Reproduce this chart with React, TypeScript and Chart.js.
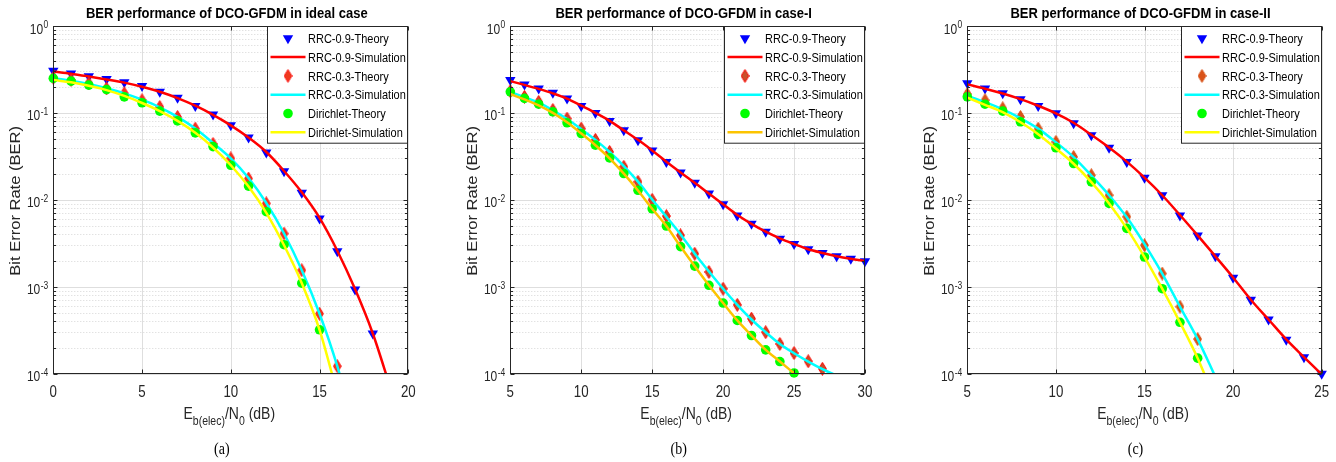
import React, { useEffect, useRef } from 'react';
import { Chart, registerables } from 'chart.js';

Chart.register(...registerables);

const SANS = '"Liberation Sans", Arial, Helvetica, sans-serif';
const SERIF = '"Liberation Serif", "Times New Roman", serif';
const SY = 1.18; // vertical text stretch of the original figure
const AXIS = '#262626';

// ---------- text / labels ----------
const legendLabels = [
  'RRC-0.9-Theory',
  'RRC-0.9-Simulation',
  'RRC-0.3-Theory',
  'RRC-0.3-Simulation',
  'Dirichlet-Theory',
  'Dirichlet-Simulation',
];
const titles = [
  'BER performance of DCO-GFDM in ideal case',
  'BER performance of DCO-GFDM in case-I',
  'BER performance of DCO-GFDM in case-II',
];
const captions = ['(a)', '(b)', '(c)'];
const yTickValues = [1, 0.1, 0.01, 0.001, 0.0001];
const yTickExponents = ['0', '-1', '-2', '-3', '-4'];
const yMinorMultipliers = [2, 3, 4, 5, 6, 7, 8, 9];
const xTicksA = [0, 5, 10, 15, 20];
const xTicksB = [5, 10, 15, 20, 25, 30];
const xTicksC = [5, 10, 15, 20, 25];

// ---------- panel (a): ideal case ----------
const xA09T = [0, 1, 2, 3, 4, 5, 6, 7, 8, 9, 10, 11, 12, 13, 14, 15, 16, 17, 18];
const a09Theory = [0.305, 0.285, 0.265, 0.245, 0.226, 0.204, 0.175, 0.149, 0.12, 0.096, 0.072, 0.052, 0.035, 0.0214, 0.0121, 0.0061, 0.00257, 0.00093, 0.00029];
const xA09S = [0, 1, 2, 3, 4, 5, 6, 7, 8, 9, 10, 11, 12, 13, 14, 15, 16, 17, 18, 19];
const a09Sim = [0.3, 0.283, 0.263, 0.243, 0.223, 0.2, 0.175, 0.148, 0.121, 0.095, 0.072, 0.052, 0.0355, 0.0215, 0.0122, 0.0062, 0.0026, 0.00094, 0.00029, 0.000068];
const xA03T = [0, 1, 2, 3, 4, 5, 6, 7, 8, 9, 10, 11, 12, 13, 14, 15, 16];
const a03Theory = [0.254, 0.239, 0.219, 0.191, 0.168, 0.14, 0.117, 0.09, 0.066, 0.044, 0.03, 0.0176, 0.0091, 0.0041, 0.00155, 0.00049, 0.000122];
const xA03S = [0, 1, 2, 3, 4, 5, 6, 7, 8, 9, 10, 11, 12, 13, 14, 15, 16, 17];
const a03Sim = [0.25, 0.235, 0.215, 0.192, 0.168, 0.142, 0.116, 0.09, 0.066, 0.045, 0.03, 0.0178, 0.0092, 0.0041, 0.00155, 0.00049, 0.000122, 0.000022];
const xADT = [0, 1, 2, 3, 4, 5, 6, 7, 8, 9, 10, 11, 12, 13, 14, 15];
const aDirTheory = [0.25, 0.232, 0.209, 0.186, 0.153, 0.131, 0.105, 0.081, 0.059, 0.041, 0.025, 0.0144, 0.0073, 0.00305, 0.0011, 0.00032];
const xADS = [0, 1, 2, 3, 4, 5, 6, 7, 8, 9, 10, 11, 12, 13, 14, 15, 16];
const aDirSim = [0.24, 0.225, 0.205, 0.183, 0.157, 0.13, 0.105, 0.081, 0.059, 0.04, 0.025, 0.0142, 0.0071, 0.003, 0.0011, 0.00032, 0.000059];

// ---------- panel (b): case-I ----------
const xB09 = [5, 6, 7, 8, 9, 10, 11, 12, 13, 14, 15, 16, 17, 18, 19, 20, 21, 22, 23, 24, 25, 26, 27, 28, 29, 30];
const b09Theory = [0.239, 0.213, 0.191, 0.171, 0.147, 0.12, 0.1, 0.081, 0.063, 0.0486, 0.037, 0.0273, 0.0206, 0.0157, 0.0118, 0.0089, 0.0066, 0.0053, 0.0043, 0.00358, 0.0031, 0.0027, 0.00245, 0.00224, 0.0021, 0.00196];
const b09Sim = [0.232, 0.21, 0.189, 0.168, 0.146, 0.121, 0.1, 0.081, 0.063, 0.049, 0.037, 0.0275, 0.0207, 0.0157, 0.0118, 0.0089, 0.0067, 0.0053, 0.0043, 0.0036, 0.0031, 0.0027, 0.00245, 0.00225, 0.0021, 0.00198];
const xB03T = [5, 6, 7, 8, 9, 10, 11, 12, 13, 14, 15, 16, 17, 18, 19, 20, 21, 22, 23, 24, 25, 26, 27];
const b03Theory = [0.178, 0.153, 0.134, 0.108, 0.086, 0.066, 0.049, 0.0356, 0.024, 0.0161, 0.01, 0.0065, 0.0039, 0.0024, 0.00148, 0.00095, 0.00062, 0.00043, 0.0003, 0.00022, 0.000173, 0.000139, 0.000114];
const xB03S = [5, 6, 7, 8, 9, 10, 11, 12, 13, 14, 15, 16, 17, 18, 19, 20, 21, 22, 23, 24, 25, 26, 27, 28];
const b03Sim = [0.175, 0.152, 0.131, 0.107, 0.085, 0.065, 0.049, 0.0355, 0.0245, 0.0162, 0.0101, 0.0064, 0.004, 0.0024, 0.0015, 0.00095, 0.00062, 0.00042, 0.0003, 0.00022, 0.000172, 0.000138, 0.000113, 0.000095];
const xBD = [5, 6, 7, 8, 9, 10, 11, 12, 13, 14, 15, 16, 17, 18, 19, 20, 21, 22, 23, 24, 25];
const bDirTheory = [0.175, 0.147, 0.126, 0.103, 0.077, 0.058, 0.0426, 0.0304, 0.0201, 0.0129, 0.0079, 0.005, 0.0029, 0.00173, 0.00104, 0.00065, 0.00041, 0.000275, 0.000188, 0.000138, 0.000102];
const bDirSim = [0.165, 0.143, 0.122, 0.1, 0.078, 0.058, 0.0425, 0.03, 0.02, 0.0128, 0.0079, 0.005, 0.0029, 0.00172, 0.00104, 0.00065, 0.00041, 0.000275, 0.000188, 0.000138, 0.000101];

// ---------- panel (c): case-II ----------
const xC09 = [5, 6, 7, 8, 9, 10, 11, 12, 13, 14, 15, 16, 17, 18, 19, 20, 21, 22, 23, 24, 25];
const c09Theory = [0.219, 0.191, 0.168, 0.144, 0.12, 0.099, 0.076, 0.0555, 0.0397, 0.0273, 0.0179, 0.0113, 0.0066, 0.0039, 0.00224, 0.00127, 0.00071, 0.00042, 0.000246, 0.000155, 0.0001];
const c09Sim = [0.213, 0.19, 0.167, 0.144, 0.121, 0.099, 0.077, 0.056, 0.04, 0.0275, 0.018, 0.0113, 0.0067, 0.0039, 0.00224, 0.00128, 0.00071, 0.00042, 0.000248, 0.000155, 0.000098];
const xCT = [5, 6, 7, 8, 9, 10, 11, 12, 13, 14, 15, 16, 17, 18];
const xCS = [5, 6, 7, 8, 9, 10, 11, 12, 13, 14, 15, 16, 17, 18, 19];
const c03Theory = [0.165, 0.14, 0.113, 0.09, 0.066, 0.0465, 0.0312, 0.0192, 0.0113, 0.0064, 0.003, 0.00142, 0.00059, 0.00025];
const c03Sim = [0.157, 0.133, 0.11, 0.087, 0.066, 0.046, 0.031, 0.019, 0.0113, 0.0063, 0.0031, 0.00142, 0.00059, 0.00025, 0.000092];
const cDirTheory = [0.153, 0.126, 0.105, 0.079, 0.0565, 0.0397, 0.0262, 0.0161, 0.0091, 0.0047, 0.0022, 0.00095, 0.00039, 0.000151];
const cDirSim = [0.15, 0.124, 0.102, 0.078, 0.057, 0.039, 0.026, 0.016, 0.0091, 0.0047, 0.0022, 0.00095, 0.00039, 0.000151, 0.000049];

const pts = (xs: number[], ys: number[]) => ys.map((v, i) => ({ x: xs[i], y: v }));

// ---------- drawing helpers ----------
function stretchedText(ctx: CanvasRenderingContext2D, s: string, x: number, y: number, font: string, align: CanvasTextAlign, color = AXIS) {
  ctx.save();
  ctx.font = font;
  ctx.fillStyle = color;
  ctx.textAlign = align;
  ctx.textBaseline = 'alphabetic';
  ctx.translate(x, y);
  ctx.scale(1, SY);
  ctx.fillText(s, 0, 0);
  ctx.restore();
}

function makeDiamond(fill: string, stroke: string): HTMLCanvasElement {
  const c = document.createElement('canvas');
  c.width = 9;
  c.height = 14;
  const g = c.getContext('2d')!;
  g.beginPath();
  g.moveTo(4.5, 0.6);
  g.lineTo(8.4, 7);
  g.lineTo(4.5, 13.4);
  g.lineTo(0.6, 7);
  g.closePath();
  g.fillStyle = fill;
  g.fill();
  g.strokeStyle = stroke;
  g.lineWidth = 1;
  g.stroke();
  return c;
}

const TRI_R = 6;
const CIRCLE_R = 4.8;

function drawMarker(ctx: CanvasRenderingContext2D, kind: string, x: number, y: number, fill: string, img?: HTMLCanvasElement) {
  ctx.save();
  if (kind === 'tri') {
    const r = TRI_R;
    ctx.beginPath();
    ctx.moveTo(x, y + r);
    ctx.lineTo(x - r * 0.866, y - r / 2);
    ctx.lineTo(x + r * 0.866, y - r / 2);
    ctx.closePath();
    ctx.fillStyle = fill;
    ctx.fill();
  } else if (kind === 'circle') {
    ctx.beginPath();
    ctx.arc(x, y, CIRCLE_R, 0, Math.PI * 2);
    ctx.fillStyle = fill;
    ctx.fill();
  } else if (kind === 'diamond' && img) {
    ctx.drawImage(img, x - img.width / 2, y - img.height / 2);
  }
  ctx.restore();
}

type PanelCfg = {
  left: number;
  width: number;
  areaLeft: number;
  areaRight: number;
  xMin: number;
  xMax: number;
  xTicks: number[];
  title: string;
  caption: string;
  diamondFill: string;
  diamondStroke: string;
  yellow: string;
  series: { x: number[]; y: number[] }[];
};

const AREA_TOP = 26;
const AREA_BOTTOM = 373.7;

const panels: PanelCfg[] = [
  {
    left: 0, width: 445, areaLeft: 53.3, areaRight: 408.3, xMin: 0, xMax: 20, xTicks: xTicksA,
    title: titles[0], caption: captions[0], diamondFill: '#ee3a1e', diamondStroke: '#ff1a1a', yellow: '#ffff00',
    series: [
      { x: xA09T, y: a09Theory }, { x: xA09S, y: a09Sim },
      { x: xA03T, y: a03Theory }, { x: xA03S, y: a03Sim },
      { x: xADT, y: aDirTheory }, { x: xADS, y: aDirSim },
    ],
  },
  {
    left: 445, width: 445, areaLeft: 65.3, areaRight: 420, xMin: 5, xMax: 30, xTicks: xTicksB,
    title: titles[1], caption: captions[1], diamondFill: '#c9502a', diamondStroke: '#ff0000', yellow: '#fcc400',
    series: [
      { x: xB09, y: b09Theory }, { x: xB09, y: b09Sim },
      { x: xB03T, y: b03Theory }, { x: xB03S, y: b03Sim },
      { x: xBD, y: bDirTheory }, { x: xBD, y: bDirSim },
    ],
  },
  {
    left: 890, width: 446, areaLeft: 77.3, areaRight: 431.7, xMin: 5, xMax: 25, xTicks: xTicksC,
    title: titles[2], caption: captions[2], diamondFill: '#d95319', diamondStroke: '#d95319', yellow: '#ffff00',
    series: [
      { x: xC09, y: c09Theory }, { x: xC09, y: c09Sim },
      { x: xCT, y: c03Theory }, { x: xCS, y: c03Sim },
      { x: xCT, y: cDirTheory }, { x: xCS, y: cDirSim },
    ],
  },
];

function makePlugin(p: PanelCfg, diamond: HTMLCanvasElement, kinds: string[], colors: string[]) {
  return {
    id: 'matlabAxes',
    beforeDatasetsDraw(chart: any) {
      const { ctx, chartArea: a } = chart;
      const xs = chart.scales.x;
      const ys = chart.scales.y;
      ctx.save();
      ctx.fillStyle = '#ffffff';
      ctx.fillRect(a.left, a.top, a.right - a.left, a.bottom - a.top);
      ctx.lineWidth = 1;
      // minor (dotted) horizontal grid
      ctx.strokeStyle = '#d6d6d6';
      ctx.setLineDash([1, 2]);
      yTickValues.forEach((d) => {
        if (d >= 1) return;
        yMinorMultipliers.forEach((m) => {
          const py = Math.round(ys.getPixelForValue(d * m)) + 0.5;
          ctx.beginPath();
          ctx.moveTo(a.left, py);
          ctx.lineTo(a.right, py);
          ctx.stroke();
        });
      });
      ctx.setLineDash([]);
      // major grid
      ctx.strokeStyle = '#dedede';
      yTickValues.forEach((d) => {
        const py = Math.round(ys.getPixelForValue(d)) + 0.5;
        ctx.beginPath();
        ctx.moveTo(a.left, py);
        ctx.lineTo(a.right, py);
        ctx.stroke();
      });
      p.xTicks.forEach((t) => {
        const px = Math.round(xs.getPixelForValue(t)) + 0.5;
        ctx.beginPath();
        ctx.moveTo(px, a.top);
        ctx.lineTo(px, a.bottom);
        ctx.stroke();
      });
      ctx.restore();
    },
    afterDatasetsDraw(chart: any) {
      const { ctx, chartArea: a } = chart;
      const xs = chart.scales.x;
      const ys = chart.scales.y;
      ctx.save();
      // box
      ctx.strokeStyle = AXIS;
      ctx.lineWidth = 1;
      const L = Math.round(a.left) + 0.5;
      const R = Math.round(a.right) - 0.5;
      const T = Math.round(a.top) + 0.5;
      const B = Math.round(a.bottom) - 0.5;
      ctx.strokeRect(L, T, R - L, B - T);
      // ticks (inward)
      ctx.beginPath();
      yTickValues.forEach((d) => {
        const py = Math.round(ys.getPixelForValue(d)) + 0.5;
        ctx.moveTo(L, py); ctx.lineTo(L + 4, py);
        ctx.moveTo(R, py); ctx.lineTo(R - 4, py);
        if (d < 1) {
          yMinorMultipliers.forEach((m) => {
            const pm = Math.round(ys.getPixelForValue(d * m)) + 0.5;
            ctx.moveTo(L, pm); ctx.lineTo(L + 2.5, pm);
            ctx.moveTo(R, pm); ctx.lineTo(R - 2.5, pm);
          });
        }
      });
      p.xTicks.forEach((t) => {
        const px = Math.round(xs.getPixelForValue(t)) + 0.5;
        ctx.moveTo(px, B); ctx.lineTo(px, B - 4);
        ctx.moveTo(px, T); ctx.lineTo(px, T + 4);
      });
      ctx.stroke();

      // x tick labels
      p.xTicks.forEach((t) => {
        stretchedText(ctx, String(t), xs.getPixelForValue(t), a.bottom + 23.6, `13.3px ${SANS}`, 'center');
      });
      // y tick labels 10^k
      const baseFont = `12px ${SANS}`;
      const supFont = `8.5px ${SANS}`;
      yTickValues.forEach((d, i) => {
        const py = ys.getPixelForValue(d);
        const right = a.left - 5;
        ctx.font = supFont;
        const wSup = ctx.measureText(yTickExponents[i]).width;
        stretchedText(ctx, yTickExponents[i], right, py + 2, supFont, 'right');
        stretchedText(ctx, '10', right - wSup - 0.5, py + 7.5, baseFont, 'right');
      });

      // y axis title (rotated, stretched along its length)
      ctx.save();
      ctx.font = `14px ${SANS}`;
      ctx.fillStyle = AXIS;
      ctx.textAlign = 'center';
      ctx.textBaseline = 'alphabetic';
      ctx.translate(a.left - 33.5, (a.top + a.bottom) / 2 + 1);
      ctx.scale(1, SY);
      ctx.rotate(-Math.PI / 2);
      ctx.fillText('Bit Error Rate (BER)', 0, 0);
      ctx.restore();

      // x axis title with subscripts
      const mainF = `14px ${SANS}`;
      const subF = `10.5px ${SANS}`;
      const parts: [string, string, number][] = [
        ['E', mainF, 0],
        ['b(elec)', subF, 6],
        ['/N', mainF, 0],
        ['0', subF, 6],
        [' (dB)', mainF, 0],
      ];
      let total = 0;
      parts.forEach(([s, f]) => { ctx.font = f; total += ctx.measureText(s).width; });
      let cx = (a.left + a.right) / 2 - 1.5 - total / 2;
      const baseY = a.bottom + 45.6;
      parts.forEach(([s, f, off]) => {
        ctx.font = f;
        const w = ctx.measureText(s).width;
        stretchedText(ctx, s, cx, baseY + off, f, 'left');
        cx += w;
      });

      // title
      stretchedText(ctx, p.title, (a.left + a.right) / 2 - 4, 18.3, `bold 13px ${SANS}`, 'center', '#000000');

      // caption
      stretchedText(ctx, p.caption, (a.left + a.right) / 2 - 9, a.bottom + 80, `14px ${SERIF}`, 'center', '#000000');

      // legend
      const lw = 141;
      const lh = 116.7;
      const lx = Math.round(a.right - lw);
      const ly = Math.round(a.top);
      ctx.fillStyle = '#ffffff';
      ctx.fillRect(lx, ly, lw, lh);
      ctx.strokeStyle = AXIS;
      ctx.lineWidth = 1;
      ctx.strokeRect(lx + 0.5, ly + 0.5, lw - 1, lh);
      chart.data.datasets.forEach((ds: any, i: number) => {
        const cy = ly + 12.3 + i * 18.8;
        if (kinds[i] === 'line') {
          ctx.beginPath();
          ctx.strokeStyle = colors[i];
          ctx.lineWidth = 2.5;
          ctx.moveTo(lx + 3.5, cy);
          ctx.lineTo(lx + 38.5, cy);
          ctx.stroke();
        } else {
          drawMarker(ctx, kinds[i], lx + 21, cy, colors[i], diamond);
        }
        stretchedText(ctx, ds.label, lx + 41, cy + 4.6, `11px ${SANS}`, 'left', '#000000');
      });
      ctx.restore();
    },
  };
}

function Panel({ p }: { p: PanelCfg }) {
  const ref = useRef<HTMLCanvasElement>(null);
  useEffect(() => {
    const diamond = makeDiamond(p.diamondFill, p.diamondStroke);
    const kinds = ['tri', 'line', 'diamond', 'line', 'circle', 'line'];
    const colors = ['#0000ff', '#ff0000', p.diamondFill, '#00ffff', '#00ff00', p.yellow];
    const theory = (i: number, style: any, rotation: number, radius: number) => ({
      label: legendLabels[i],
      data: pts(p.series[i].x, p.series[i].y),
      showLine: false,
      pointStyle: style,
      rotation,
      pointRadius: radius,
      pointHoverRadius: radius,
      pointBackgroundColor: colors[i],
      pointBorderColor: colors[i],
      pointBorderWidth: 0,
      borderColor: colors[i],
      backgroundColor: colors[i],
      clip: false as any,
      order: 6 - i,
    });
    const sim = (i: number) => ({
      label: legendLabels[i],
      data: pts(p.series[i].x, p.series[i].y),
      showLine: true,
      borderColor: colors[i],
      backgroundColor: colors[i],
      borderWidth: 2.5,
      pointRadius: 0,
      pointHoverRadius: 0,
      cubicInterpolationMode: 'monotone' as const,
      fill: false,
      clip: 0,
      order: 6 - i,
    });
    const chart = new Chart(ref.current!, {
      type: 'line',
      data: {
        datasets: [
          theory(0, 'triangle', 180, TRI_R),
          sim(1),
          theory(2, diamond, 0, 5),
          sim(3),
          theory(4, 'circle', 0, CIRCLE_R),
          sim(5),
        ] as any,
      },
      options: {
        animation: false,
        responsive: false,
        maintainAspectRatio: false,
        events: [],
        layout: {
          padding: {
            left: p.areaLeft,
            right: p.width - p.areaRight,
            top: AREA_TOP,
            bottom: 462 - AREA_BOTTOM,
          },
        },
        plugins: {
          legend: { display: false },
          title: { display: false },
          tooltip: { enabled: false },
        },
        scales: {
          x: {
            type: 'linear',
            min: p.xMin,
            max: p.xMax,
            ticks: { display: false },
            grid: { display: false },
            border: { display: false },
            afterFit: (s: any) => { s.height = 0; },
          },
          y: {
            type: 'logarithmic',
            min: 0.0001,
            max: 1,
            ticks: { display: false },
            grid: { display: false },
            border: { display: false },
            afterFit: (s: any) => { s.width = 0; },
          },
        },
      } as any,
      plugins: [makePlugin(p, diamond, kinds, colors)],
    });
    return () => chart.destroy();
  }, [p]);
  return (
    <canvas
      ref={ref}
      width={p.width}
      height={462}
      style={{ position: 'absolute', left: p.left, top: 0, width: p.width, height: 462 }}
    />
  );
}

export default function App() {
  return (
    <div style={{ position: 'fixed', left: 0, top: 0, width: 1336, height: 462, background: '#ffffff', overflow: 'hidden' }}>
      {panels.map((p, i) => (
        <Panel key={i} p={p} />
      ))}
    </div>
  );
}
